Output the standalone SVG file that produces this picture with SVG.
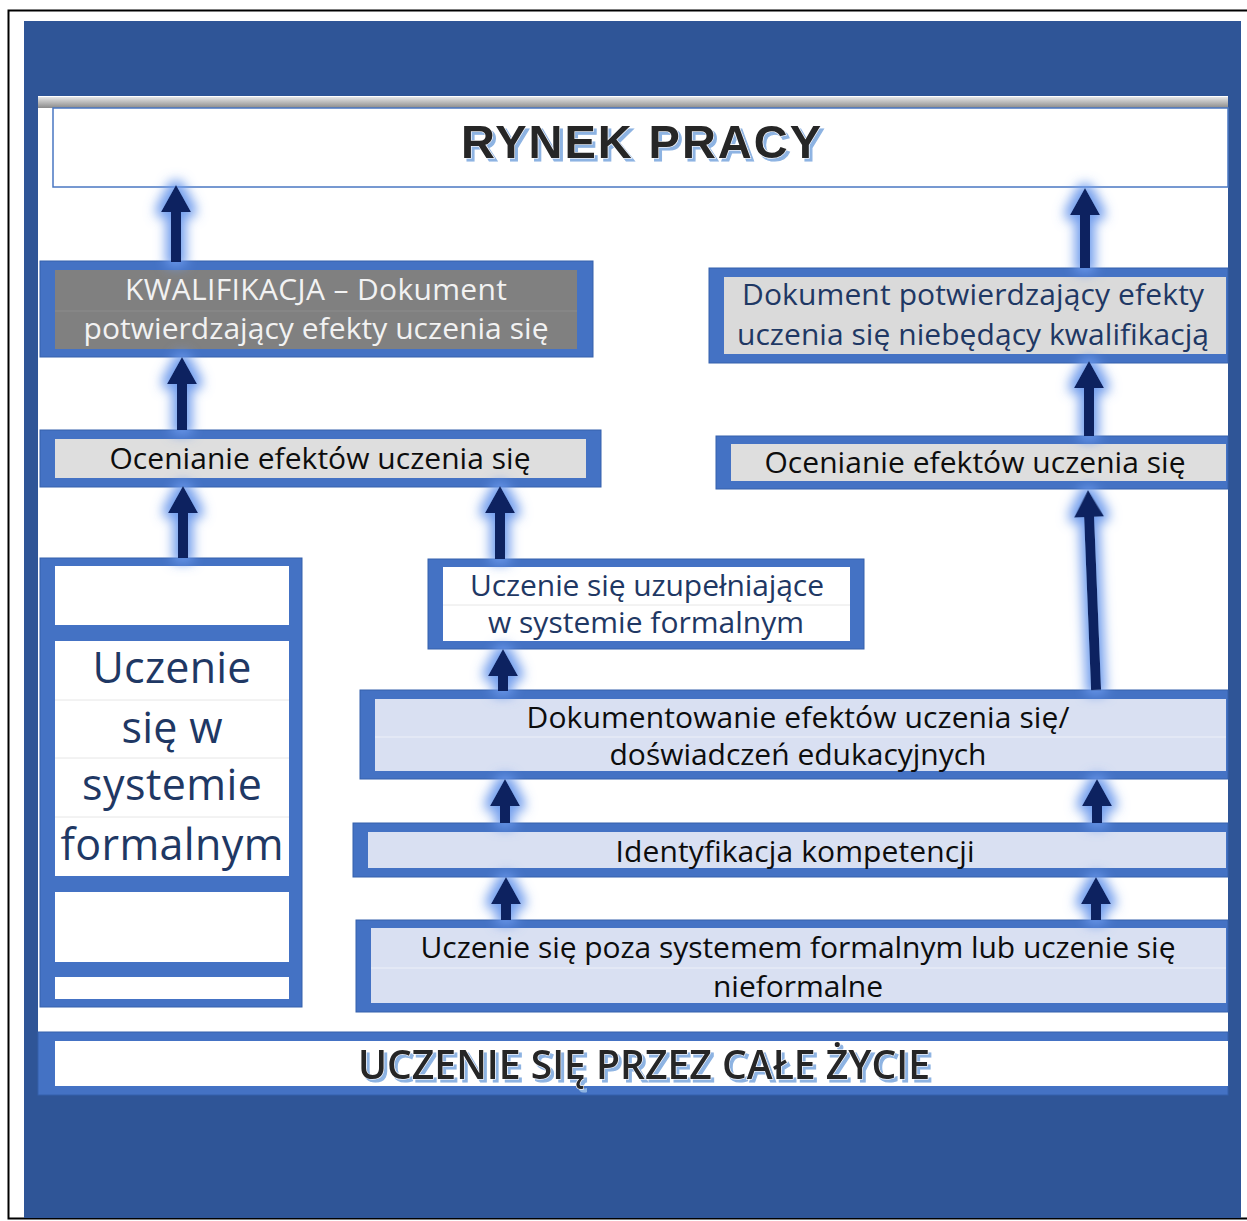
<svg xmlns="http://www.w3.org/2000/svg" width="1247" height="1221" viewBox="0 0 1247 1221">
  <defs>
    <style>
      .frame { fill: #4472C4; stroke: #3560AC; stroke-width: 1; }
      .cell-gray { fill: #DEDEDE; }
      .cell-dark { fill: #808080; }
      .cell-blue { fill: #D9E0F2; }
      .cell-white { fill: #FFFFFF; }
      .sep { stroke: #FFFFFF; stroke-opacity: 0.55; stroke-width: 1; }
      .sep-dark { stroke: #8C8C8C; stroke-width: 1; }
      .sep-light { stroke: #E6E6E6; stroke-width: 1; }
      .t { font-family: "Open Sans", "Noto Sans", sans-serif; font-size: 30px; text-anchor: middle; }
      .t-black { fill: #0D0D0D; }
      .t-navy { fill: #1F3864; }
      .t-white { fill: #F2F2F2; }
      .t-big { font-size: 43px; }
      .arrow { fill: #0A2161; filter: url(#glow); }
      .title { font-family: "Liberation Sans", Arial, sans-serif; font-weight: 700; font-size: 47px; text-anchor: middle; }
      .banner { font-family: "Open Sans", "Noto Sans", sans-serif; font-weight: 600; font-size: 40px; text-anchor: middle; }
      .ink { fill: #262626; stroke: #FFFFFF; stroke-width: 1.2; paint-order: stroke; filter: url(#lift); }
    </style>
    <!-- soft blue halo around each arrow -->
    <filter id="glow" x="-150%" y="-70%" width="400%" height="240%">
      <feMorphology in="SourceAlpha" operator="dilate" radius="5" result="grown"/>
      <feGaussianBlur in="grown" stdDeviation="6" result="soft"/>
      <feFlood flood-color="#6A98EC" flood-opacity="0.95"/>
      <feComposite in2="soft" operator="in" result="halo"/>
      <feMerge>
        <feMergeNode in="halo"/>
        <feMergeNode in="SourceGraphic"/>
      </feMerge>
    </filter>
    <!-- light blue drop shadow for the headline texts -->
    <filter id="lift" x="-5%" y="-20%" width="110%" height="150%">
      <feOffset in="SourceAlpha" dx="3" dy="3" result="moved"/>
      <feFlood flood-color="#8DB3E2"/>
      <feComposite in2="moved" operator="in" result="shade"/>
      <feMerge>
        <feMergeNode in="shade"/>
        <feMergeNode in="SourceGraphic"/>
      </feMerge>
    </filter>
    <linearGradient id="topShade" x1="0" y1="0" x2="0" y2="1">
      <stop offset="0" stop-color="#E6E6E6"/>
      <stop offset="1" stop-color="#8A8A8A"/>
    </linearGradient>
  </defs>

  <!-- page frame and backdrop -->
  <rect x="0" y="0" width="1247" height="1221" fill="#FFFFFF"/>
  <rect x="8.5" y="10.5" width="1300" height="1208" fill="none" stroke="#000000" stroke-width="2"/>
  <rect x="24" y="21" width="1217" height="1197" fill="#2F5597"/>
  <rect x="38" y="96" width="1190" height="999" fill="#FFFFFF"/>
  <rect x="38" y="97" width="1190" height="11" fill="url(#topShade)"/>

  <!-- top: labour market -->
  <g id="rynek-pracy">
    <rect x="53" y="108" width="1175" height="79" fill="#FFFFFF" stroke="#4A77C2" stroke-width="1.5"/>
    <text class="title ink" x="641" y="158" textLength="360">RYNEK PRACY</text>
  </g>

  <!-- left column -->
  <g id="kwalifikacja">
    <rect class="frame" x="40" y="261" width="553" height="96"/>
    <rect class="cell-dark" x="55" y="270" width="522" height="79"/>
    <line class="sep-dark" x1="55" y1="311" x2="577" y2="311"/>
    <text class="t t-white" x="316" y="300" textLength="382">KWALIFIKACJA – Dokument</text>
    <text class="t t-white" x="316" y="339" textLength="465">potwierdzający efekty uczenia się</text>
  </g>

  <g id="ocenianie-lewe">
    <rect class="frame" x="40" y="430" width="561" height="57"/>
    <rect class="cell-gray" x="55" y="439" width="531" height="39"/>
    <text class="t t-black" x="320" y="469" textLength="421">Ocenianie efektów uczenia się</text>
  </g>

  <g id="uczenie-formalne">
    <rect class="frame" x="40" y="558" width="262" height="449"/>
    <rect class="cell-white" x="55" y="566" width="234" height="59"/>
    <rect class="cell-white" x="55" y="641" width="234" height="235"/>
    <rect class="cell-white" x="55" y="892" width="234" height="70"/>
    <rect class="cell-white" x="55" y="977" width="234" height="22"/>
    <line class="sep-light" x1="55" y1="700" x2="289" y2="700"/>
    <line class="sep-light" x1="55" y1="758" x2="289" y2="758"/>
    <line class="sep-light" x1="55" y1="817" x2="289" y2="817"/>
    <text class="t t-big t-navy" x="172" y="683" textLength="159">Uczenie</text>
    <text class="t t-big t-navy" x="172" y="743" textLength="101">się w</text>
    <text class="t t-big t-navy" x="172" y="800" textLength="180">systemie</text>
    <text class="t t-big t-navy" x="172" y="860" textLength="223">formalnym</text>
  </g>

  <!-- right column -->
  <g id="dokument-niekwalifikacja">
    <rect class="frame" x="709" y="268" width="519" height="95"/>
    <rect x="724" y="277" width="502" height="77" fill="#DADADA"/>
    <text class="t t-navy" x="973" y="305" textLength="462">Dokument potwierdzający efekty</text>
    <text class="t t-navy" x="973" y="345" textLength="472">uczenia się niebędący kwalifikacją</text>
  </g>

  <g id="ocenianie-prawe">
    <rect class="frame" x="716" y="436" width="512" height="53"/>
    <rect class="cell-gray" x="731" y="444" width="495" height="37"/>
    <text class="t t-black" x="975" y="473" textLength="421">Ocenianie efektów uczenia się</text>
  </g>

  <!-- centre stack -->
  <g id="uczenie-uzupelniajace">
    <rect class="frame" x="428" y="559" width="436" height="90"/>
    <rect class="cell-white" x="443" y="567" width="407" height="74"/>
    <line class="sep-light" x1="443" y1="605" x2="850" y2="605"/>
    <text class="t t-navy" x="647" y="596" textLength="354">Uczenie się uzupełniające</text>
    <text class="t t-navy" x="646" y="633" textLength="316">w systemie formalnym</text>
  </g>

  <g id="dokumentowanie">
    <rect class="frame" x="360" y="690" width="868" height="89"/>
    <rect class="cell-blue" x="375" y="699" width="851" height="72"/>
    <line class="sep" x1="375" y1="737" x2="1226" y2="737"/>
    <text class="t t-black" x="798" y="728" textLength="543">Dokumentowanie efektów uczenia się/</text>
    <text class="t t-black" x="798" y="765" textLength="377">doświadczeń edukacyjnych</text>
  </g>

  <g id="identyfikacja">
    <rect class="frame" x="353" y="823" width="875" height="54"/>
    <rect class="cell-blue" x="368" y="832" width="858" height="36"/>
    <text class="t t-black" x="795" y="862" textLength="359">Identyfikacja kompetencji</text>
  </g>

  <g id="uczenie-pozaformalne">
    <rect class="frame" x="356" y="920" width="872" height="92"/>
    <rect class="cell-blue" x="371" y="928" width="855" height="75"/>
    <line class="sep" x1="371" y1="968" x2="1226" y2="968"/>
    <text class="t t-black" x="798" y="958" textLength="755">Uczenie się poza systemem formalnym lub uczenie się</text>
    <text class="t t-black" x="798" y="997" textLength="170">nieformalne</text>
  </g>

  <!-- bottom: lifelong learning -->
  <g id="uczenie-przez-cale-zycie">
    <rect class="frame" x="38" y="1032" width="1190" height="63"/>
    <rect class="cell-white" x="55" y="1041" width="1173" height="45"/>
    <text class="banner ink" x="644" y="1079" textLength="572" lengthAdjust="spacingAndGlyphs">UCZENIE SIĘ PRZEZ CAŁE ŻYCIE</text>
  </g>

  <!-- connectors: shaft 10 wide, head 30 wide x 27 long -->
  <g id="connectors">
    <path class="arrow" d="M171,262 V212 H161 L176,185 L191,212 H181 V262 Z"/>
    <path class="arrow" d="M1080,268 V215 H1070 L1085,188 L1100,215 H1090 V268 Z"/>
    <path class="arrow" d="M177,430 V384 H167 L182,357 L197,384 H187 V430 Z"/>
    <path class="arrow" d="M1084,436 V388 H1074 L1089,361 L1104,388 H1094 V436 Z"/>
    <path class="arrow" d="M178,558 V513 H168 L183,486 L198,513 H188 V558 Z"/>
    <path class="arrow" d="M495,559 V513 H485 L500,486 L515,513 H505 V559 Z"/>
    <path class="arrow" d="M1083,690.2 V517 H1073 L1088,490 L1103,517 H1093 V690.2 Z" transform="rotate(-2.31 1088 490)"/>
    <path class="arrow" d="M498,691 V676 H488 L503,649 L518,676 H508 V691 Z"/>
    <path class="arrow" d="M500,823 V806 H490 L505,779 L520,806 H510 V823 Z"/>
    <path class="arrow" d="M1092,823 V806 H1082 L1097,779 L1112,806 H1102 V823 Z"/>
    <path class="arrow" d="M501,920 V904 H491 L506,877 L521,904 H511 V920 Z"/>
    <path class="arrow" d="M1091,920 V904 H1081 L1096,877 L1111,904 H1101 V920 Z"/>
  </g>
</svg>
